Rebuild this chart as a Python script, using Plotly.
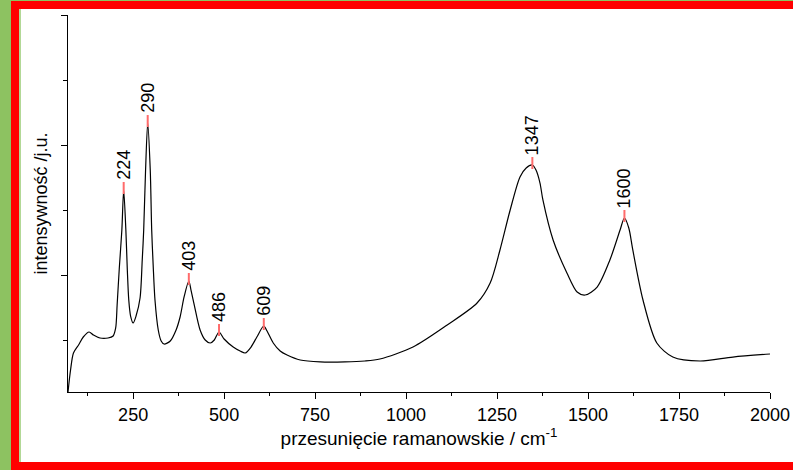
import plotly.graph_objects as go

# Raman spectrum (wavenumber / cm^-1, intensity in arbitrary units)
shift = [71, 78, 86, 100, 113, 129, 141, 159, 181, 195, 202, 206, 212, 219, 224,
         230, 234, 238, 243, 250, 258, 269, 275, 279, 284, 290, 297, 301, 305, 310,
         319, 327, 335, 352, 368, 379, 390, 403, 409, 418, 434, 448, 462, 473, 486,
         500, 525, 544, 558, 574, 590, 609, 618, 635, 654, 673, 709, 764, 832, 887,
         928, 1019, 1113, 1195, 1231, 1258, 1286, 1313, 1330, 1347, 1357, 1368, 1376,
         1404, 1442, 1470, 1492, 1525, 1560, 1588, 1600, 1612, 1623, 1651, 1689, 1733,
         1808, 1898, 2000]
intensity = [200, 538, 800, 923, 1046, 1123, 1077, 1031, 1031, 1062, 1185, 1538, 2108, 2692, 3308,
             2692, 2077, 1615, 1369, 1262, 1369, 1646, 2231, 2692, 3585, 4338, 3615, 2692, 2154, 1615,
             1154, 985, 938, 985, 1154, 1354, 1662, 1908, 1769, 1538, 1154, 1000, 954, 1000, 1123,
             1015, 892, 831, 800, 892, 1046, 1215, 1138, 954, 831, 769, 692, 662, 662, 677,
             708, 892, 1231, 1569, 1877, 2385, 3000, 3508, 3646, 3692, 3615, 3415, 3154,
             2538, 2031, 1738, 1692, 1815, 2231, 2692, 2877, 2723, 2385, 1615, 954, 738,
             677, 738, 785]

# Labelled band positions
peaks = [224, 290, 403, 486, 609, 1347, 1600]

x_range = [71, 2000]
y_range = [200, 6000]
y_major = [2000, 4000, 6000]
y_minor = [1000, 3000, 5000]

W, H = 793, 470
ML, MR, MT, MB = 68, 23, 15, 78
PW, PH = W - ML - MR, H - MT - MB


def px(xp):
    return (xp - ML) / PW


def py(yp):
    return (H - MB - yp) / PH


FONT = "Liberation Sans, Arial, sans-serif"

fig = go.Figure()
fig.add_trace(go.Scatter(
    x=shift, y=intensity, mode="lines",
    line=dict(color="black", width=1.2, shape="spline", smoothing=0.8),
    hoverinfo="skip", showlegend=False,
))

shapes = []
annotations = []
for p in peaks:
    yv = intensity[shift.index(p)]
    shapes.append(dict(
        type="line", xref="x", yref="y", x0=p, x1=p,
        ysizemode="pixel", yanchor=yv, y0=-4, y1=8,
        line=dict(color="#ff6b6b", width=2),
    ))
    annotations.append(dict(
        x=p, y=yv, xref="x", yref="y", text=str(p), showarrow=False,
        textangle=-90, xanchor="center", yanchor="bottom", yshift=8,
        font=dict(family=FONT, size=18, color="black"),
    ))

# page frame: green strip, red border, thin light-green inner edge
frame = [
    ("#8dc261", 0, 0, 11, H),
    ("#8dc261", 11, 0, W, 1),
    ("#ff0000", 11, 1, W, 9),
    ("#ff0000", 11, 1, 20, H),
    ("#ff0000", 11, 462, W, H),
    ("#b2d896", 19, 9, 21, 462),
]
for col, x0, y0, x1, y1 in frame:
    shapes.append(dict(
        type="rect", xref="paper", yref="paper",
        x0=px(x0), x1=px(x1), y0=py(y1), y1=py(y0),
        fillcolor=col, line=dict(width=0), layer="above",
    ))

fig.update_layout(
    width=W, height=H, autosize=False,
    margin=dict(l=ML, r=MR, t=MT, b=MB, pad=0, autoexpand=False),
    paper_bgcolor="white", plot_bgcolor="white",
    font=dict(family=FONT, size=18, color="black"),
    shapes=shapes, annotations=annotations,
    xaxis=dict(
        range=x_range, showgrid=False, zeroline=False, automargin=False,
        showline=True, linecolor="black", linewidth=1,
        ticks="outside", ticklen=6, tickwidth=1, tickcolor="black",
        tick0=0, dtick=250,
        minor=dict(ticks="outside", ticklen=3, tickcolor="black", dtick=125, tick0=0),
        tickfont=dict(family=FONT, size=18, color="black"),
        title=dict(text="przesunięcie ramanowskie / cm<sup>-1</sup>",
                   font=dict(family=FONT, size=19, color="black"), standoff=5),
    ),
    yaxis=dict(
        range=y_range, showgrid=False, zeroline=False, automargin=False,
        showline=True, linecolor="black", linewidth=1,
        ticks="outside", ticklen=6, tickwidth=1, tickcolor="black",
        tickmode="array", tickvals=y_major, showticklabels=False,
        minor=dict(ticks="outside", ticklen=4, tickcolor="black",
                   tickmode="array", tickvals=y_minor),
        title=dict(text="intensywność /j.u.",
                   font=dict(family=FONT, size=18, color="black"), standoff=8),
    ),
)

fig.write_html("out.html")
